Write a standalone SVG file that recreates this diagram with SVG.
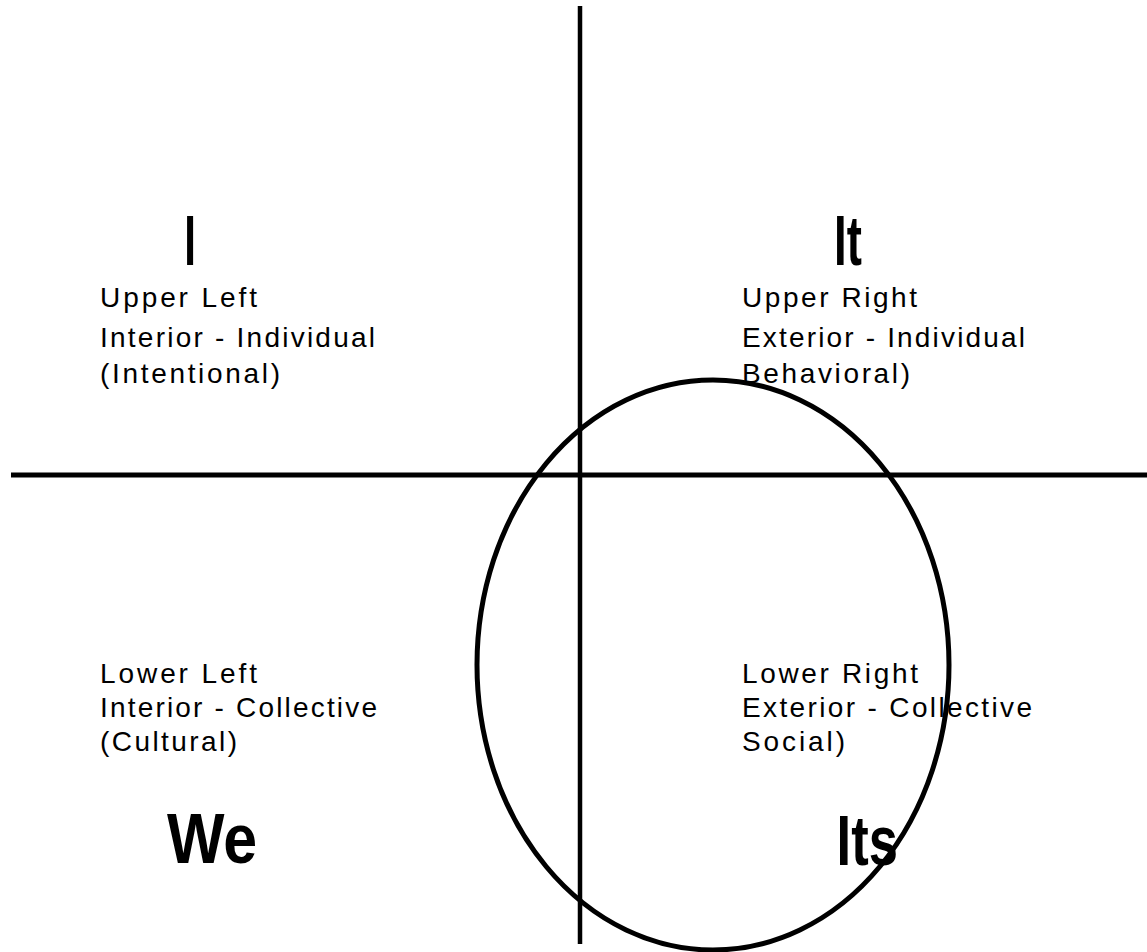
<svg xmlns="http://www.w3.org/2000/svg" width="1147" height="952" viewBox="0 0 1147 952">
  <style>
    .axis { stroke: #000; stroke-width: 5; fill: none; }
    .ring { stroke: #000; stroke-width: 5; fill: none; }
    .body { font-family: "Liberation Sans", Arial, sans-serif; font-size: 28px; fill: #000; }
    .big { font-family: "Liberation Sans", Arial, sans-serif; font-size: 70px; font-weight: bold; fill: #000; }
  </style>
  <rect x="0" y="0" width="1147" height="952" fill="#fff"/>
  <g id="connectors">
    <line class="axis" x1="580" y1="6" x2="580" y2="944" style="stroke-width:4.5"/>
    <line class="axis" x1="11" y1="475" x2="1147" y2="475"/>
  </g>
  <g id="ellipse">
    <ellipse class="ring" cx="713" cy="665" rx="236" ry="285"/>
  </g>
  <g id="upper-left">
    <text class="big" transform="translate(184.3,265) scale(0.6,1)">I</text>
    <text class="body" x="100" y="307" textLength="157" lengthAdjust="spacing">Upper Left</text>
    <text class="body" x="100" y="347" textLength="275" lengthAdjust="spacing">Interior - Individual</text>
    <text class="body" x="100" y="383" textLength="180" lengthAdjust="spacing">(Intentional)</text>
  </g>
  <g id="upper-right">
    <text class="big" transform="translate(834,265) scale(0.65,1)">It</text>
    <text class="body" x="742" y="307" textLength="175" lengthAdjust="spacing">Upper Right</text>
    <text class="body" x="742" y="347" textLength="283" lengthAdjust="spacing">Exterior - Individual</text>
    <text class="body" x="742" y="383" textLength="168" lengthAdjust="spacing">Behavioral)</text>
  </g>
  <g id="lower-left">
    <text class="body" x="100" y="683" textLength="157" lengthAdjust="spacing">Lower Left</text>
    <text class="body" x="100" y="717" textLength="277" lengthAdjust="spacing">Interior - Collective</text>
    <text class="body" x="100" y="751" textLength="137" lengthAdjust="spacing">(Cultural)</text>
    <text class="big" transform="translate(167,863) scale(0.87,1)">We</text>
  </g>
  <g id="lower-right">
    <text class="body" x="742" y="683" textLength="176" lengthAdjust="spacing">Lower Right</text>
    <text class="body" x="742" y="717" textLength="290" lengthAdjust="spacing">Exterior - Collective</text>
    <text class="body" x="742" y="751" textLength="103" lengthAdjust="spacing">Social)</text>
    <text class="big" transform="translate(836.6,865) scale(0.75,1)">Its</text>
  </g>
</svg>
